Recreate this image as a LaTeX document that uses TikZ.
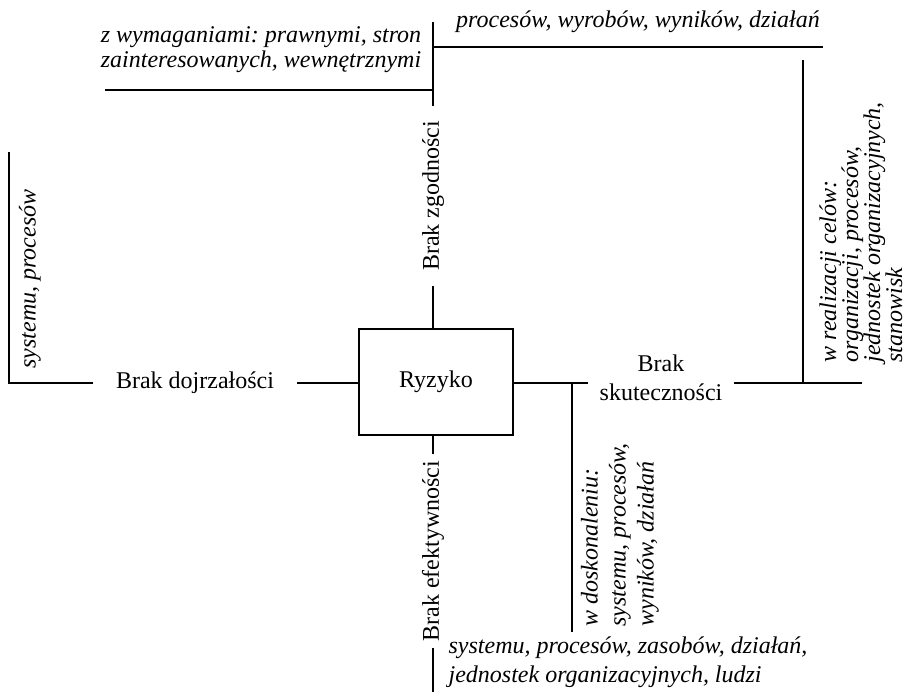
\documentclass[tikz,border=0pt]{standalone}
\usepackage{fontspec}
\setmainfont{Liberation Serif}
\usetikzlibrary{positioning, calc}
\setlength{\lineskiplimit}{-10pt}
\frenchspacing

\begin{document}
\begin{tikzpicture}[x=0.75pt, y=-0.75pt, line width=0.9pt,
  every node/.style={font=\fontsize{18}{21.75}\selectfont},
  box/.style={draw, minimum width=115.5pt, minimum height=79.5pt},
  lbl/.style={inner ysep=0pt, align=center},
  note/.style={inner sep=0pt, font=\fontsize{18}{21.75}\selectfont\itshape},
]
\useasboundingbox (0,0) rectangle (924,692);
% --- Ryzyko ---
\node[box] (ryz) at (436,382) {Ryzyko};

% --- Brak zgodności ---
\node[lbl, rotate=90, inner xsep=11pt] (zgod) at (433,196) {Brak zgodności};
\coordinate (ztop) at (433,22);
\coordinate (zleft) at (105,90);
\coordinate (zright) at (823,47);
\draw (ryz.north -| zgod) -- (zgod.west);
\draw (zgod.east) -- (ztop);
\draw (zleft) -- (zleft -| ztop);
\draw (zright -| ztop) -- (zright);
\node[note, align=right, font=\fontsize{18}{18.75}\selectfont\itshape] (zwym) at (261,50)
  {z wymaganiami: prawnymi, stron\\zainteresowanych, wewnętrznymi};
\node[note] (zproc) at (638,22) {procesów, wyrobów, wyników, działań};

% --- Brak skuteczności ---
\node[lbl, inner xsep=8pt] (skut) at (661,378) {Brak\\skuteczności};
\coordinate (sright) at (862,383);
\coordinate (stop) at (803,60);
\draw (ryz.east |- sright) -- (skut.west |- sright);
\draw (skut.east |- sright) -- (sright);
\draw (stop) -- (stop |- sright);
\node[note, rotate=90, anchor=west, align=left,
  font=\fontsize{18}{16.5}\selectfont\itshape] (cele) at (861,363)
  {w realizacji celów:\\organizacji, procesów,\\jednostek organizacyjnych,\\stanowisk};

% --- w doskonaleniu ---
\coordinate (wtop) at (572,383);
\coordinate (wbot) at (572,632);
\draw (wtop) -- (wbot);
\node[note, rotate=90, anchor=west, align=left,
  font=\fontsize{18}{21}\selectfont\itshape] (wdosk) at (620,627)
  {w doskonaleniu:\\systemu, procesów,\\wyników, działań};

% --- Brak dojrzałości ---
\node[lbl, inner xsep=16.5pt] (dojrz) at (195,383) {Brak dojrzałości};
\coordinate (dcorner) at (9,383);
\coordinate (dtop) at (9,152);
\draw (ryz.west |- dojrz) -- (dojrz.east);
\draw (dojrz.west) -- (dcorner) -- (dtop);
\node[note, rotate=90] (dsys) at (30,279) {systemu, procesów};

% --- Brak efektywności ---
\node[lbl, rotate=90, inner xsep=4.5pt] (efekt) at (433,551) {Brak efektywności};
\coordinate (ebot) at (433,692);
\draw (ryz.south -| efekt) -- (efekt.east);
\draw (efekt.west) -- (ebot);
\node[note, anchor=west, align=left] (ezas) at (448,662)
  {systemu, procesów, zasobów, działań,\\jednostek organizacyjnych, ludzi};
\end{tikzpicture}
\end{document}
